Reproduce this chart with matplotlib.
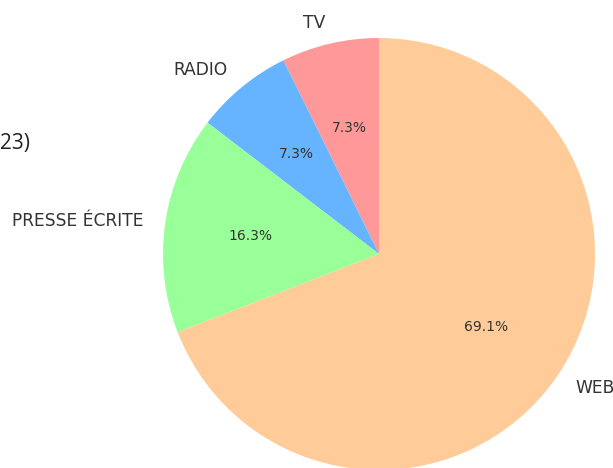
import matplotlib.pyplot as plt

# share of mentions by media type (percent)
labels = ['TV', 'RADIO', 'PRESSE ÉCRITE', 'WEB']
shares = [7.3, 7.3, 16.3, 69.1]
colors = ['#ff9999', '#66b3ff', '#99ff99', '#ffcc99']

W, H = 613, 468
fig = plt.figure(figsize=(W / 100, H / 100), dpi=100)

cx, cy, r = 379, 254, 216
ax = fig.add_axes([(cx - r) / W, (H - cy - r) / H, 2 * r / W, 2 * r / H])
wedges, texts, autotexts = ax.pie(shares, labels=labels, colors=colors,
                                  autopct='%1.1f%%', startangle=90,
                                  textprops={'color': '#333333'})
for t in texts:
    t.set_fontsize(12.3)
for t in autotexts:
    t.set_fontsize(10)
ax.set_xlim(-1, 1)
ax.set_ylim(-1, 1)
ax.set_aspect('equal')
ax.axis('off')

fig.text(0, 1 - 144 / H, '23)', ha='left', va='center',
         fontsize=15, color='#222222', family='Open Sans')

fig.savefig('out.png', dpi=100)
